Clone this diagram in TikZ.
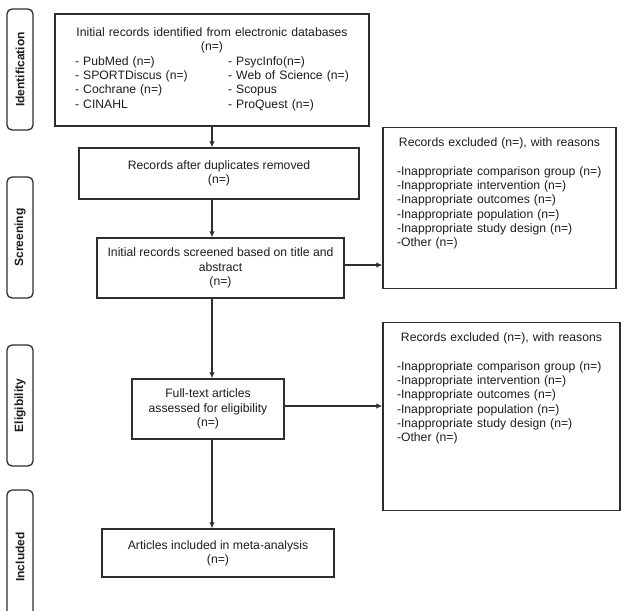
\documentclass[tikz,border=0pt]{standalone}
\usepackage{fontspec}
\setmainfont{Liberation Sans}
\usepackage{xcolor}
\usepackage{tikz}
\usetikzlibrary{positioning, arrows.meta}
\definecolor{prismaline}{HTML}{2E2E2E}
\definecolor{prismatext}{HTML}{1C1C1C}

\begin{document}
\begin{tikzpicture}[x=1pt, y=-1pt,
    stagebox/.style={draw=prismaline, line width=1.3pt, rounded corners=5pt, rotate=90,
          minimum height=26pt, inner sep=0pt, text=prismatext, font=\fontsize{12}{14}\selectfont\bfseries},
    flowbox/.style={draw=prismaline, line width=1.3pt, align=center, inner sep=0pt,
          text=prismatext, font=\fontsize{12.2}{14.3}\selectfont},
    exclbox/.style={draw=prismaline, line width=1.3pt, anchor=north, align=left, inner xsep=14pt,
          inner ysep=10pt, text=prismatext, font=\fontsize{12.2}{14.3}\selectfont},
    flowarrow/.style={draw=prismaline, line width=1.3pt, -{Latex[length=6pt, width=5.5pt]}}]

  \useasboundingbox (0,0) rectangle (622,611);

  % phases
  \node[stagebox, minimum width=121pt] (ident) at (20,69.5) {Identification};
  \node[stagebox, minimum width=121pt] (screen) at (20,237.5) {Screening};
  \node[stagebox, minimum width=121pt] (elig) at (20,405.5) {Eligibility};
  \node[stagebox, minimum width=134pt] (incl) at (20,557) {Included};

  % main flow
  \node[flowbox, minimum width=314pt, minimum height=112pt, text width=300pt] (records) at (212,70) {%
      Initial records identified from electronic databases\\(n=)\\
      \begin{tabular}[t]{@{}p{153pt}@{}l@{}}
        - PubMed (n=) & - PsycInfo(n=)\\
        - SPORTDiscus (n=) & - Web of Science (n=)\\
        - Cochrane (n=) & - Scopus\\
        - CINAHL & - ProQuest (n=)
      \end{tabular}};
  \node[flowbox, minimum width=280pt, minimum height=51pt] (nodup) at (219,173.5)
      {Records after duplicates removed\\(n=)};
  \node[flowbox, minimum width=247pt, minimum height=60pt] (screened) at (220.5,268)
      {Initial records screened based on title and\\abstract\\(n=)};
  \node[flowbox, minimum width=152pt, minimum height=60pt] (fulltext) at (208,409)
      {Full-text articles\\assessed for eligibility\\(n=)};
  \node[flowbox, minimum width=232pt, minimum height=48pt] (included) at (218,553)
      {Articles included in meta-analysis\\(n=)};

  % exclusions
  \node[exclbox, text width=205pt] (exclscreen) at (499.5,127) {%
      \makebox[205pt]{Records excluded (n=), with reasons}\\[14.5pt]
      -Inappropriate comparison group (n=)\\
      -Inappropriate intervention (n=)\\
      -Inappropriate outcomes (n=)\\
      -Inappropriate population (n=)\\
      -Inappropriate study design (n=)\\
      -Other (n=)\\[17.5pt]\mbox{}};
  \node[exclbox, text width=209pt] (exclfull) at (501.5,322) {%
      \makebox[209pt]{Records excluded (n=), with reasons}\\[14.5pt]
      -Inappropriate comparison group (n=)\\
      -Inappropriate intervention (n=)\\
      -Inappropriate outcomes (n=)\\
      -Inappropriate population (n=)\\
      -Inappropriate study design (n=)\\
      -Other (n=)\\[44.5pt]\mbox{}};

  % connectors
  \draw[flowarrow] (records.south) -- (records.south |- nodup.north);
  \draw[flowarrow] (nodup.south -| records.south) -- (records.south |- screened.north);
  \draw[flowarrow] (screened.south -| records.south) -- (records.south |- fulltext.north);
  \draw[flowarrow] (fulltext.south -| records.south) -- (records.south |- included.north);
  \draw[flowarrow] ([yshift=3pt]screened.east) -- ([yshift=3pt]screened.east -| exclscreen.west);
  \draw[flowarrow] ([yshift=3pt]fulltext.east) -- ([yshift=3pt]fulltext.east -| exclfull.west);
\end{tikzpicture}
\end{document}
